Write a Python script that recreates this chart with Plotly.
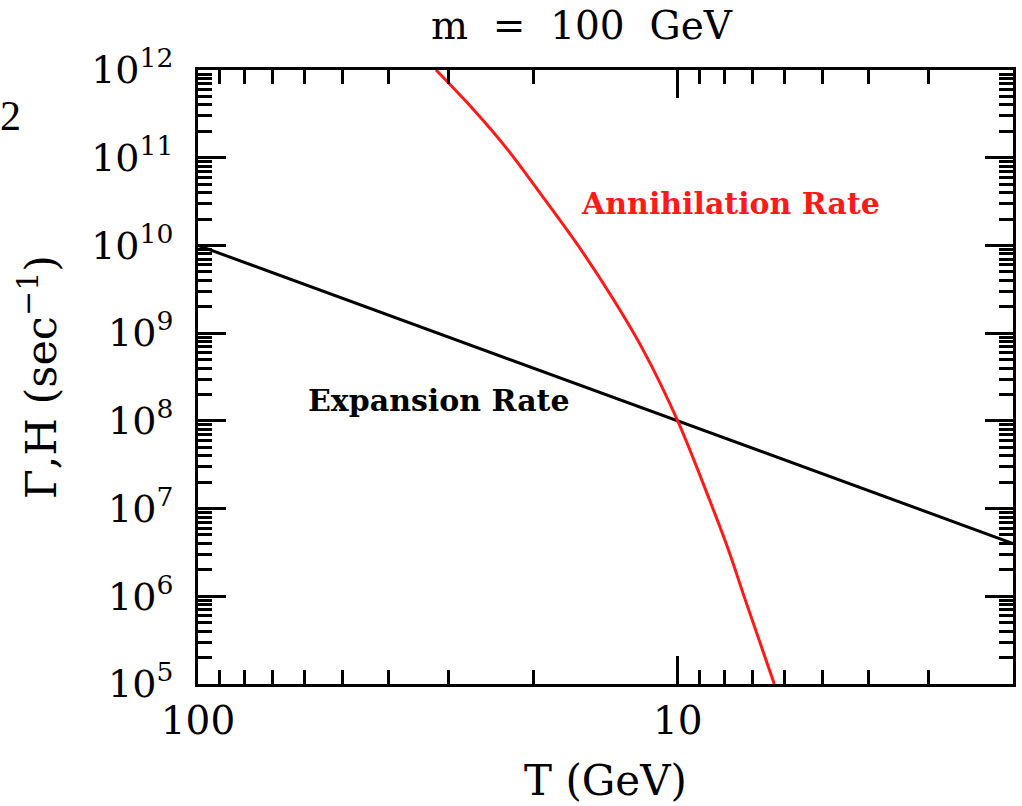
import plotly.graph_objects as go

# ---- data ----
T_expansion = [100, 10, 2]
H_expansion = [1e10, 1e8, 4.0e6]

T_annihilation = [31.9, 26.6, 22.6, 18.9, 15.9, 13.6, 11.8, 10.0, 8.58, 7.84, 7.23, 6.29]
G_annihilation = [1e12, 3.5e11, 1.23e11, 3.3e10, 8.9e9, 2.4e9, 6.4e8, 1.0e8, 1.25e7, 3.4e6, 9.1e5, 1.0e5]

y_tickvals = [1e5, 1e6, 1e7, 1e8, 1e9, 1e10, 1e11, 1e12]
y_ticktext = ["10<sup>5</sup>", "10<sup>6</sup>", "10<sup>7</sup>", "10<sup>8</sup>",
              "10<sup>9</sup>", "10<sup>10</sup>", "10<sup>11</sup>", "10<sup>12</sup>"]
x_tickvals = [100, 10]
x_ticktext = ["100", "10"]

FONT = "DejaVu Serif"

fig = go.Figure()
fig.add_trace(go.Scatter(x=T_expansion, y=H_expansion, mode="lines",
                         line=dict(color="black", width=3), showlegend=False))
fig.add_trace(go.Scatter(x=T_annihilation, y=G_annihilation, mode="lines",
                         line=dict(color="#ff1a1a", width=3, shape="spline", smoothing=1.0),
                         showlegend=False))

axis_common = dict(
    type="log", showgrid=False, zeroline=False, automargin=False,
    showline=True, linecolor="black", linewidth=3, mirror="allticks",
    ticks="inside", ticklen=28, tickwidth=2.5, tickcolor="black",
    minor=dict(ticks="inside", ticklen=14, tickwidth=2.5, tickcolor="black", dtick="D1", showgrid=False),
)

fig.update_xaxes(
    **axis_common,
    range=[2, 0.30103],
    tickvals=x_tickvals, ticktext=x_ticktext,
    tickfont=dict(family=FONT, size=39, color="black"),
    ticklabelstandoff=0,
    title=dict(text="T (GeV)", font=dict(family=FONT, size=42, color="black"), standoff=24),
)
fig.update_yaxes(
    **axis_common,
    range=[5, 12],
    tickvals=y_tickvals, ticktext=y_ticktext,
    tickfont=dict(family=FONT, size=38, color="black"),
    ticklabelstandoff=14,
    title=dict(text="Γ,H (sec<sup>−1</sup>)", font=dict(family=FONT, size=43, color="black"), standoff=22),
)

fig.update_layout(
    width=1022, height=806,
    margin=dict(l=198, r=9, t=70, b=122, autoexpand=False),
    paper_bgcolor="white", plot_bgcolor="white",
    annotations=[
        dict(text="m&nbsp;&nbsp;=&nbsp;&nbsp;100&nbsp;&nbsp;GeV", xref="paper", yref="paper",
             x=0.471, y=1.072, xanchor="center", yanchor="middle", showarrow=False,
             font=dict(family=FONT, size=39, color="black")),
        dict(text="<b>Annihilation Rate</b>", xref="paper", yref="paper",
             x=0.653, y=0.783, xanchor="center", yanchor="middle", showarrow=False,
             font=dict(family=FONT, size=30, color="#ff1a1a")),
        dict(text="<b>Expansion Rate</b>", xref="paper", yref="paper",
             x=0.296, y=0.461, xanchor="center", yanchor="middle", showarrow=False,
             font=dict(family=FONT, size=30, color="black")),
        dict(text="2", xref="paper", yref="paper", x=-0.245, y=0.925,
             xanchor="left", yanchor="middle",
             showarrow=False, font=dict(family="Liberation Serif", size=42, color="black")),
    ],
)

fig.write_html("out.html", config={"displayModeBar": False},
               post_script="document.body.style.margin='0';")
